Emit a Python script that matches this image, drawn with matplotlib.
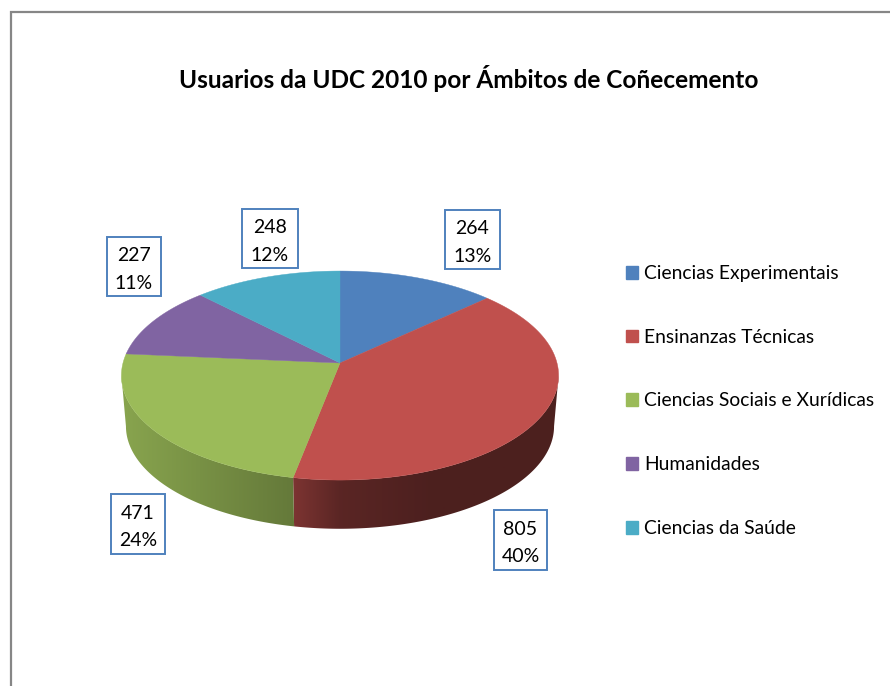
import numpy as np
import matplotlib
matplotlib.use('Agg')
import matplotlib.pyplot as plt
from matplotlib.patches import Patch, Polygon, Rectangle

plt.rcParams['font.family'] = ['Lato', 'DejaVu Sans']

categories = ['Ciencias Experimentais', 'Ensinanzas Técnicas', 'Ciencias Sociais e Xurídicas', 'Humanidades', 'Ciencias da Saúde']
values = [264, 805, 471, 227, 248]
percents = ['13%', '40%', '24%', '11%', '12%']
colours = ['#4F81BD', '#C0504D', '#9BBB59', '#8064A2', '#4BACC6']

# label boxes in pixels: left, top, right, bottom
boxes = [(445, 210, 500, 269), (494, 510, 547, 570), (111, 494, 165, 554), (107, 237, 161, 296), (242, 209, 298, 268)]

W, H = 890, 686
cx = 340
k = 0.12


def project(t, y0, a, b):
    # perspective view of the pie disc, t clockwise from the top
    u = np.sin(t)
    v = -np.cos(t)
    d = 1 - k * v
    return cx + a * u / d, y0 + b * v / d


def top(t):
    return project(t, 363, 217, 103)


def bottom(t):
    return project(t, 414, 212.5, 101)


fig = plt.figure(figsize=(W / 100, H / 100), dpi=100)
ax = fig.add_axes([0, 0, 1, 1])
ax.set_xlim(0, W)
ax.set_ylim(H, 0)
ax.axis('off')

# chart frame runs off the right and bottom of the image
ax.plot([11, 11, W + 5], [H + 5, 12, 12], color='#868686', lw=1.6, solid_joinstyle='miter')

edges = np.radians(np.concatenate([[0], np.cumsum(values)]) / sum(values) * 360)

# the wall is visible between the two silhouette angles of the disc
t_right = np.arccos(-k)
t_left = 2 * np.pi - t_right

# side wall: horizontal gradient clipped to the wall outline
grad_x = np.arange(100, 581)
shade = np.interp(grad_x, [121, 293, 340, 430, 558], [0.88, 0.65, 0.47, 0.40, 0.40])
for i in range(len(values)):
    a0 = max(edges[i], t_right)
    a1 = min(edges[i + 1], t_left)
    if a1 <= a0:
        continue
    ts = np.linspace(a0, a1, 300)
    xt, yt = top(ts)
    xb, yb = bottom(ts)
    wall = Polygon(np.c_[np.r_[xt, xb[::-1]], np.r_[yt, yb[::-1]]], closed=True, transform=ax.transData, fc='none', ec='none')
    ax.add_patch(wall)
    base = np.array(matplotlib.colors.to_rgb(colours[i]))
    img = (shade[:, None] * base)[None, :, :]
    im = ax.imshow(img, extent=(100, 580, 560, 340), aspect='auto', zorder=2, interpolation='bilinear')
    im.set_clip_path(wall)
ax.set_xlim(0, W)
ax.set_ylim(H, 0)

# top face
for i in range(len(values)):
    ts = np.linspace(edges[i], edges[i + 1], 200)
    xs, ys = top(ts)
    ax.fill(np.r_[cx, xs], np.r_[363, ys], color=colours[i], lw=0.3, zorder=3)

# data labels
for i in range(len(values)):
    l, t, r, b = boxes[i]
    ax.add_patch(Rectangle((l, t), r - l, b - t, fc='white', ec='#4F81BD', lw=1.4, zorder=4))
    ax.text((l + r) / 2, (t + b) / 2 + 3, str(values[i]) + '\n' + percents[i], ha='center', va='center',
            fontsize=14, color='black', linespacing=1.75, zorder=5)

ax.text(469, 79, 'Usuarios da UDC 2010 por Ámbitos de Coñecemento', ha='center', va='center',
        fontsize=17.6, fontweight='bold', color='black')

handles = [Patch(color=c) for c in colours]
ax.legend(handles, categories, loc='upper left', bbox_to_anchor=(626 / W, 1 - 265 / H), frameon=False,
          fontsize=13.85, handlelength=0.63, handleheight=0.63, handletextpad=0.31,
          labelspacing=2.43, borderpad=0, borderaxespad=0)

fig.savefig('out.png', dpi=100)
